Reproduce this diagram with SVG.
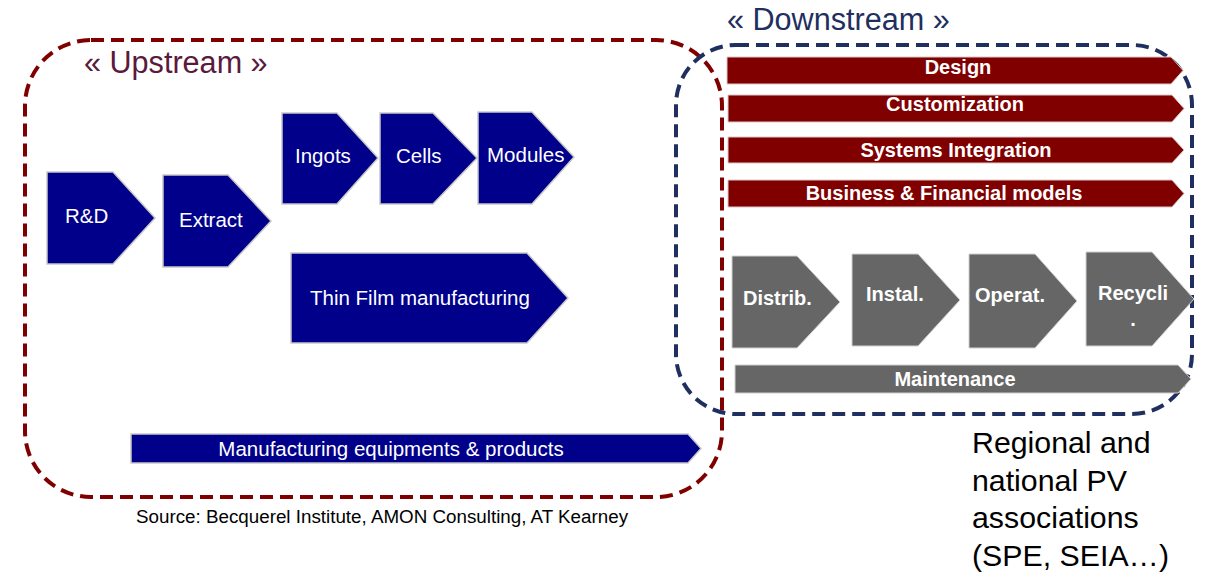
<svg xmlns="http://www.w3.org/2000/svg" width="1205" height="573" viewBox="0 0 1205 573">
  <style>
    .up { fill: #00008b; stroke: #c8c8c8; stroke-width: 1.5; }
    .dn { fill: #800000; stroke: #d8c8c8; stroke-width: 1; }
    .gr { fill: #666666; stroke: #d0d0d0; stroke-width: 1; }
    .lbl { font-family: "Liberation Sans", Arial, sans-serif; fill: #ffffff; font-size: 20.5px; }
    .glbl { font-family: "Liberation Sans", Arial, sans-serif; fill: #ffffff; font-size: 20px; font-weight: bold; }
    .blbl { font-family: "Liberation Sans", Arial, sans-serif; fill: #ffffff; font-size: 20px; font-weight: bold; text-anchor: middle; }
    .frame { fill: none; stroke-width: 4; stroke-dasharray: 13 7; }
    .title { font-family: "Liberation Sans", Arial, sans-serif; font-size: 30.6px; }
  </style>

  <!-- grouping frames -->
  <g id="frames">
    <rect class="frame" x="25" y="40" width="697" height="457" rx="66" ry="66" stroke="#800000"/>
    <rect class="frame" x="676" y="45" width="516" height="369" rx="60" ry="60" stroke="#1f2f60"/>
  </g>

  <text class="title" x="84" y="73" fill="#5a1a3c">« Upstream »</text>
  <text class="title" x="727" y="30" fill="#1f2f60">« Downstream »</text>

  <!-- upstream steps -->
  <g id="rnd">
    <polygon class="up" points="47,172 113,172 155,218 113,264 47,264"/>
    <text class="lbl" x="65" y="223">R&amp;D</text>
  </g>
  <g id="extract">
    <polygon class="up" points="163,175 228,175 271,221 228,267 163,267"/>
    <text class="lbl" x="179" y="227">Extract</text>
  </g>
  <g id="ingots">
    <polygon class="up" points="282,113 337,113 378,158 337,204 282,204"/>
    <text class="lbl" x="295" y="163">Ingots</text>
  </g>
  <g id="cells">
    <polygon class="up" points="380,113 433,113 477,158 433,204 380,204"/>
    <text class="lbl" x="396" y="163">Cells</text>
  </g>
  <g id="modules">
    <polygon class="up" points="478,112 532,112 574,157 532,204 478,204"/>
    <text class="lbl" x="487" y="162">Modules</text>
  </g>
  <g id="thinfilm">
    <polygon class="up" points="291,253 527,253 568,298 527,343 291,343"/>
    <text class="lbl" x="310" y="305">Thin Film manufacturing</text>
  </g>
  <g id="equipment">
    <polygon class="up" points="131,434 688,434 701,448.5 688,463 131,463"/>
    <text class="lbl" x="391" y="456" text-anchor="middle">Manufacturing equipments &amp; products</text>
  </g>

  <!-- downstream bars -->
  <g id="design">
    <polygon class="dn" points="727,57 1171,57 1183,70.5 1171,84 727,84"/>
    <text class="blbl" x="958" y="74">Design</text>
  </g>
  <g id="customization">
    <polygon class="dn" points="728,95 1172,95 1184,108.5 1172,122 728,122"/>
    <text class="blbl" x="955" y="111">Customization</text>
  </g>
  <g id="integration">
    <polygon class="dn" points="728,137 1172,137 1184,150 1172,163 728,163"/>
    <text class="blbl" x="956" y="157">Systems Integration</text>
  </g>
  <g id="business">
    <polygon class="dn" points="728,180 1172,180 1184,193.5 1172,207 728,207"/>
    <text class="blbl" x="944" y="200">Business &amp; Financial models</text>
  </g>

  <!-- downstream steps -->
  <g id="distrib">
    <polygon class="gr" points="732,256 797,256 840,302 797,348 732,348"/>
    <text class="glbl" x="743" y="305">Distrib.</text>
  </g>
  <g id="instal">
    <polygon class="gr" points="852,254 918,254 960,300 918,346 852,346"/>
    <text class="glbl" x="866" y="301">Instal.</text>
  </g>
  <g id="operat">
    <polygon class="gr" points="969,254 1035,254 1077,301 1035,348 969,348"/>
    <text class="glbl" x="975" y="302">Operat.</text>
  </g>
  <g id="recycli">
    <polygon class="gr" points="1086,252 1152,252 1194,299 1152,346 1086,346"/>
    <text class="glbl" x="1098" y="300">Recycli</text>
    <text class="glbl" x="1133" y="326" text-anchor="middle">.</text>
  </g>
  <g id="maintenance">
    <polygon class="gr" points="735,365 1178,365 1191,379 1178,393 735,393"/>
    <text class="blbl" x="955" y="386">Maintenance</text>
  </g>

  <text x="136" y="523" font-family="'Liberation Sans', Arial, sans-serif" font-size="18.8" fill="#000">Source: Becquerel Institute, AMON Consulting, AT Kearney</text>

  <g font-family="'Liberation Sans', Arial, sans-serif" font-size="30.3" fill="#000">
    <text x="972" y="453">Regional and</text>
    <text x="972" y="491">national PV</text>
    <text x="972" y="528">associations</text>
    <text x="972" y="566">(SPE, SEIA…)</text>
  </g>
</svg>
